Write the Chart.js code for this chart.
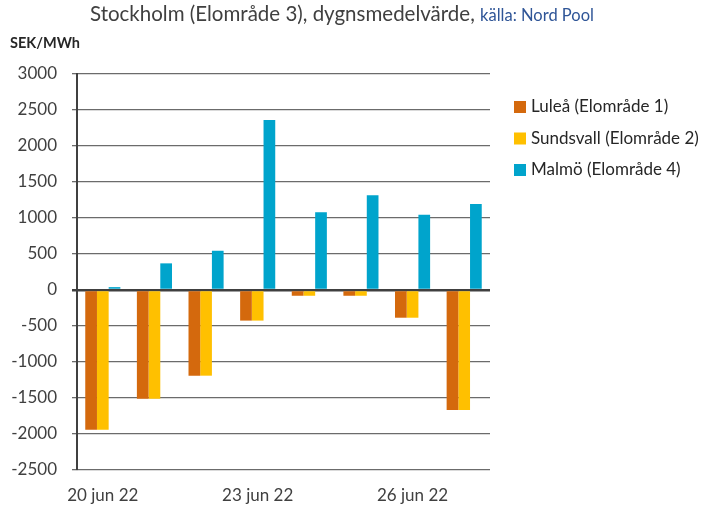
<!DOCTYPE html>
<html lang="sv">
<head>
<meta charset="utf-8">
<script src="https://cdn.jsdelivr.net/npm/chart.js@4/dist/chart.umd.min.js"></script>
<style>
    html, body { margin: 0; padding: 0; background: #fff; }
    #wrap { position: relative; width: 708px; height: 507px; font-family: Lato, sans-serif; }
    #title { position: absolute; left: 90px; top: 1px; line-height: 24px; font-size: 20.5px; color: #404040; white-space: nowrap; }
    #title span { font-size: 16.5px; color: #2F5597; }
    #unit { position: absolute; left: 10px; top: 34px; font-size: 14.5px; font-weight: bold; color: #262626; }
    canvas { position: absolute; left: 0; top: 0; }
</style>
</head>
<body>
<div id="wrap">
    <canvas id="priceChart" width="708" height="507"></canvas>
    <div id="title">Stockholm (Elområde 3), dygnsmedelvärde, <span>källa: Nord Pool</span></div>
    <div id="unit">SEK/MWh</div>
</div>
<script>
// prisskillnad mot SE3, SEK/MWh
const days = ['20 jun 22', '21 jun 22', '22 jun 22', '23 jun 22', '24 jun 22', '25 jun 22', '26 jun 22', '27 jun 22'];
const lulea = [-1940, -1510, -1190, -425, -80, -80, -385, -1665];
const sundsvall = [-1940, -1510, -1190, -425, -80, -80, -385, -1665];
const malmo = [40, 370, 545, 2360, 1080, 1315, 1045, 1195];

const seriesNames = ['Luleå (Elområde 1)', 'Sundsvall (Elområde 2)', 'Malmö (Elområde 4)'];
const seriesColors = ['#D4690D', '#FFC000', '#00A4CC'];

// förklaringen till höger, ritas från datasetens namn och färger
const sideLegend = {
    id: 'sideLegend',
    afterDraw(chart) {
        const c = chart.ctx;
        const left = chart.chartArea.right + 24;
        c.save();
        c.font = '17px Lato';
        c.textBaseline = 'middle';
        chart.data.datasets.forEach((ds, i) => {
            const y = 107 + i * 31.5;
            c.fillStyle = ds.backgroundColor;
            c.fillRect(left, y - 6, 12, 12);
            c.fillStyle = '#262626';
            c.fillText(ds.label, left + 17, y);
        });
        c.restore();
    }
};

function initChart() {
    const ctx = document.getElementById('priceChart').getContext('2d');
    const sets = [lulea, sundsvall, malmo].map((vals, i) => ({
        label: seriesNames[i],
        data: vals,
        backgroundColor: seriesColors[i],
        borderWidth: 0,
        categoryPercentage: 0.68,
        barPercentage: 1.0
    }));

    new Chart(ctx, {
        type: 'bar',
        data: { labels: days, datasets: sets },
        plugins: [sideLegend],
        options: {
            responsive: false,
            animation: false,
            layout: { padding: { top: 74, bottom: 0, left: 0, right: 218 } },
            plugins: {
                tooltip: { enabled: false },
                legend: { display: false }
            },
            scales: {
                x: {
                    grid: { display: false, drawTicks: false },
                    border: { display: false },
                    afterFit: s => { s.height = 37; },
                    ticks: {
                        autoSkip: false,
                        maxRotation: 0,
                        padding: 15,
                        color: '#404040',
                        font: { family: 'Lato', size: 17 },
                        callback: function (val, idx) { return idx % 3 === 0 ? this.getLabelForValue(val) : ''; }
                    }
                },
                y: {
                    min: -2500,
                    max: 3000,
                    afterFit: s => { s.width = 77; },
                    ticks: {
                        stepSize: 500,
                        padding: 15,
                        color: '#404040',
                        font: { family: 'Lato', size: 17 },
                        callback: v => String(v)
                    },
                    grid: {
                        color: c => c.tick && c.tick.value === 0 ? '#404040' : '#6b6b6b',
                        lineWidth: c => c.tick && c.tick.value === 0 ? 2.5 : 1.3,
                        tickLength: 5
                    },
                    border: { color: '#404040', width: 2 }
                }
            }
        }
    });
}

window.onload = initChart;
</script>
</body>
</html>
